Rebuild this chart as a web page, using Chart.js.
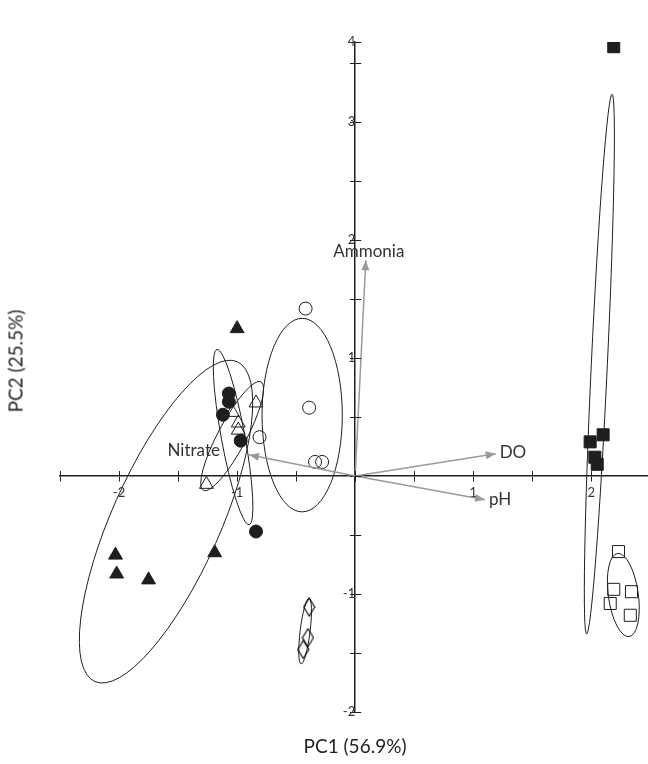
<!DOCTYPE html>
<html>
<head>
<meta charset="utf-8">
<script src="https://cdn.jsdelivr.net/npm/chart.js@4.4.1/dist/chart.umd.min.js"></script>
<style>
    html, body { margin: 0; padding: 0; background: #fff; }
    #wrap { position: relative; width: 648px; height: 764px; overflow: hidden; }
    .axis-title {
        position: absolute;
        font-family: Lato, sans-serif;
        font-size: 19px;
        color: #222;
        white-space: nowrap;
    }
    #x-title { left: 355px; top: 745px; transform: translate(-50%, -50%); }
    #y-title { left: 15px; top: 361px; transform: translate(-50%, -50%) rotate(-90deg); }
</style>
</head>
<body>
<div id="wrap">
    <canvas id="pca" width="648" height="764"></canvas>
    <div class="axis-title" id="x-title">PC1 (56.9%)</div>
    <div class="axis-title" id="y-title">PC2 (25.5%)</div>
</div>
<script>
/* ── Data ──────────────────────────────────────────────── */
const xTickValues = [-2.5, -2, -1.5, -1, -0.5, 0, 0.5, 1, 1.5, 2];
const xTickLabels = ['', '-2', '', '-1', '', '', '', '1', '', '2'];
const yTickValues = [-2, -1.5, -1, -0.5, 0, 0.5, 1, 1.5, 2, 2.5, 3, 3.5, 3.68];
const yTickLabels = ['-2', '', '-1', '', '', '', '1', '', '2', '', '3', '', '4'];

const fillTriX = [-1.00, -2.03, -2.02, -1.75, -1.19];
const fillTriY = [1.25, -0.67, -0.83, -0.88, -0.65];

const openTriX = [-1.04, -0.99, -0.99, -0.84, -1.26];
const openTriY = [0.54, 0.45, 0.39, 0.62, -0.07];

const fillCircX = [-1.07, -1.07, -1.12, -0.97, -0.84];
const fillCircY = [0.70, 0.63, 0.52, 0.30, -0.47];

const openCircX = [-0.42, -0.39, -0.81, -0.34, -0.28];
const openCircY = [1.42, 0.58, 0.33, 0.12, 0.12];

const fillSqX = [2.19, 1.99, 2.10, 2.03, 2.05];
const fillSqY = [3.64, 0.29, 0.35, 0.16, 0.10];

const openSqX = [2.23, 2.19, 2.34, 2.16, 2.33];
const openSqY = [-0.64, -0.96, -0.98, -1.08, -1.18];

const diamondX = [-0.39, -0.40, -0.44];
const diamondY = [-1.11, -1.37, -1.47];

// loading vectors
const arrowNames = ['Ammonia', 'Nitrate', 'DO', 'pH'];
const arrowX = [0.09, -0.90, 1.19, 1.10];
const arrowY = [1.83, 0.18, 0.19, -0.20];

// group ellipses: centre, semi-axes (PC units), rotation in degrees
const ellipseCx = [-1.602, -1.034, -1.042, -0.449, 2.068, 2.271, -0.424];
const ellipseCy = [-0.386, 0.331, 0.339, 0.517, 0.949, -1.008, -1.314];
const ellipseA = [1.483, 0.754, 0.52, 0.82, 2.29, 0.356, 0.28];
const ellipseB = [0.459, 0.10, 0.12, 0.34, 0.068, 0.127, 0.042];
const ellipseRot = [66, 100.4, 62, 90, 87.3, 98, 83];

/* ── Helpers ───────────────────────────────────────────── */
const INK = '#1e1e1e';
const ARROW = '#9a9a9a';
const FONT = 'Lato, sans-serif';

const pts = (xs, ys) => xs.map((x, i) => ({ x, y: ys[i] }));

function diamondImage(w, h) {
    const c = document.createElement('canvas');
    c.width = w + 2;
    c.height = h + 2;
    const g = c.getContext('2d');
    g.strokeStyle = '#000';
    g.lineWidth = 1.1;
    g.beginPath();
    g.moveTo(c.width / 2, 1);
    g.lineTo(c.width - 1, c.height / 2);
    g.lineTo(c.width / 2, c.height - 1);
    g.lineTo(1, c.height / 2);
    g.closePath();
    g.stroke();
    return c;
}

function markers(data, style, filled, radius) {
    return {
        type: 'scatter',
        data,
        pointStyle: style,
        pointRadius: radius,
        pointBorderWidth: 1,
        pointBorderColor: INK,
        pointBackgroundColor: filled ? INK : 'rgba(0,0,0,0)',
    };
}

const arrowSets = arrowNames.map((name, i) => ({
    type: 'line',
    label: name,
    data: [{ x: 0, y: 0 }, { x: arrowX[i], y: arrowY[i] }],
    borderColor: ARROW,
    borderWidth: 1.5,
    pointRadius: 0,
    isArrow: true,
}));

/* ── Plugins ───────────────────────────────────────────── */
const ellipsePlugin = {
    id: 'ellipses',
    beforeDatasetsDraw(chart) {
        const { ctx, scales: { x, y } } = chart;
        const ppx = Math.abs(x.getPixelForValue(1) - x.getPixelForValue(0));
        const ppy = Math.abs(y.getPixelForValue(1) - y.getPixelForValue(0));
        ctx.save();
        ctx.strokeStyle = INK;
        ctx.lineWidth = 1;
        ellipseCx.forEach((cx, i) => {
            const rot = ellipseRot[i] * Math.PI / 180;
            ctx.beginPath();
            ctx.ellipse(x.getPixelForValue(cx), y.getPixelForValue(ellipseCy[i]),
                ellipseA[i] * (ppx + ppy) / 2, ellipseB[i] * (ppx + ppy) / 2, -rot, 0, Math.PI * 2);
            ctx.stroke();
        });
        ctx.restore();
    }
};

const LABEL_POS = {
    Ammonia: { align: 'center', dx: 3, dy: -9 },
    Nitrate: { align: 'right', dx: -29, dy: -4 },
    DO: { align: 'left', dx: 4, dy: -1 },
    pH: { align: 'left', dx: 4, dy: 0 },
};

const arrowPlugin = {
    id: 'arrows',
    afterDatasetsDraw(chart) {
        const { ctx } = chart;
        ctx.save();
        chart.data.datasets.forEach((ds, i) => {
            if (!ds.isArrow) return;
            const [p0, p1] = chart.getDatasetMeta(i).data;
            const ang = Math.atan2(p1.y - p0.y, p1.x - p0.x);
            const len = 10, half = 4;
            ctx.fillStyle = ARROW;
            ctx.beginPath();
            ctx.moveTo(p1.x, p1.y);
            ctx.lineTo(p1.x - len * Math.cos(ang) + half * Math.sin(ang), p1.y - len * Math.sin(ang) - half * Math.cos(ang));
            ctx.lineTo(p1.x - len * Math.cos(ang) - half * Math.sin(ang), p1.y - len * Math.sin(ang) + half * Math.cos(ang));
            ctx.closePath();
            ctx.fill();

            const lp = LABEL_POS[ds.label];
            ctx.fillStyle = '#333';
            ctx.font = `17px ${FONT}`;
            ctx.textAlign = lp.align;
            ctx.textBaseline = 'middle';
            ctx.fillText(ds.label, p1.x + lp.dx, p1.y + lp.dy);
        });
        ctx.restore();
    }
};

// Chart.js draws the tick on one side only; add the other half so ticks cross the axes
const crossTicks = {
    id: 'crossTicks',
    afterDraw(chart) {
        const { ctx, scales: { x, y } } = chart;
        const x0 = x.getPixelForValue(0);
        const y0 = y.getPixelForValue(0);
        ctx.save();
        ctx.strokeStyle = INK;
        ctx.lineWidth = 1;
        ctx.beginPath();
        x.ticks.forEach(t => {
            const px = Math.round(x.getPixelForValue(t.value)) + 0.5;
            ctx.moveTo(px, y0);
            ctx.lineTo(px, y0 - 5);
        });
        y.ticks.forEach(t => {
            const py = Math.round(y.getPixelForValue(t.value)) + 0.5;
            ctx.moveTo(x0, py);
            ctx.lineTo(x0 + 6, py);
        });
        ctx.stroke();
        ctx.restore();
    }
};

/* ── Chart ─────────────────────────────────────────────── */
new Chart(document.getElementById('pca'), {
    data: {
        datasets: [
            ...arrowSets,
            markers(pts(fillTriX, fillTriY), 'triangle', true, 8),
            markers(pts(openTriX, openTriY), 'triangle', false, 8),
            markers(pts(fillCircX, fillCircY), 'circle', true, 6.5),
            markers(pts(openCircX, openCircY), 'circle', false, 6.5),
            markers(pts(fillSqX, fillSqY), 'rect', true, 8.5),
            markers(pts(openSqX, openSqY), 'rect', false, 8.5),
            markers(pts(diamondX, diamondY), diamondImage(11, 18), false, 9),
        ]
    },
    options: {
        responsive: false,
        animation: false,
        layout: { autoPadding: false, padding: { left: 60, right: 0, top: 42, bottom: 52 } },
        plugins: {
            legend: { display: false },
            tooltip: { enabled: false },
        },
        scales: {
            x: {
                type: 'linear',
                position: { y: 0 },
                min: -2.5,
                max: 2.48,
                afterBuildTicks: s => { s.ticks = xTickValues.map(v => ({ value: v })); },
                grid: { drawOnChartArea: false, tickLength: 5, color: INK, lineWidth: 1 },
                border: { color: INK, width: 1.5 },
                ticks: {
                    autoSkip: false,
                    maxRotation: 0,
                    padding: 4,
                    color: '#333',
                    font: { family: FONT, size: 13 },
                    callback: (v, i) => xTickLabels[i],
                },
            },
            y: {
                type: 'linear',
                position: { x: 0 },
                min: -2,
                max: 3.68,
                afterBuildTicks: s => { s.ticks = yTickValues.map(v => ({ value: v })); },
                grid: { drawOnChartArea: false, tickLength: 4, color: INK, lineWidth: 1 },
                border: { color: INK, width: 1.5 },
                ticks: {
                    autoSkip: false,
                    padding: 2,
                    color: '#333',
                    font: { family: FONT, size: 13 },
                    callback: (v, i) => yTickLabels[i],
                },
            },
        },
    },
    plugins: [ellipsePlugin, arrowPlugin, crossTicks],
});
</script>
</body>
</html>
